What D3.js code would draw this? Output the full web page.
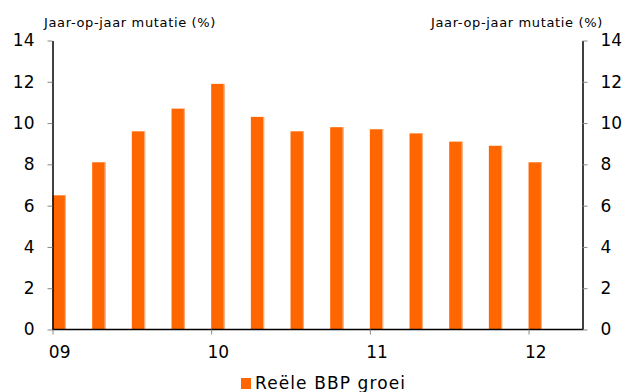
<!DOCTYPE html>
<html>
<head>
<meta charset="utf-8">
<script src="https://cdn.jsdelivr.net/npm/d3@7"></script>
<style>
  html, body { margin: 0; padding: 0; background: #fff; }
  svg { display: block; font-family: "DejaVu Sans", Verdana, sans-serif; }
</style>
</head>
<body>
<svg id="chart" width="625" height="392"></svg>
<script>
// Quarterly real GDP growth, year-on-year (%)
const quarters = ["2009 K1","2009 K2","2009 K3","2009 K4","2010 K1","2010 K2","2010 K3","2010 K4",
                  "2011 K1","2011 K2","2011 K3","2011 K4","2012 K1"];
const growth = [6.5, 8.1, 9.6, 10.7, 11.9, 10.3, 9.6, 9.8, 9.7, 9.5, 9.1, 8.9, 8.1];
const yearLabels = ["09", "10", "11", "12"];
const yTicks = [0, 2, 4, 6, 8, 10, 12, 14];
const axisTitle = "Jaar-op-jaar mutatie (%)";
const seriesName = "Reële BBP groei";

const svg = d3.select("#chart");
const plot = { left: 52.5, right: 582.5, top: 40.5, bottom: 329.5 };
const barColor = "#ff6600";

// x in quarters since 2009 K1; the axis runs a little past 2012 K1
const x = d3.scaleLinear().domain([0, 13.36]).range([plot.left, plot.right]);
const y = d3.scaleLinear().domain([0, 14]).range([plot.bottom, plot.top]);
const barW = x(0.335) - x(0);

// bars
svg.append("g").selectAll("rect")
  .data(growth)
  .join("rect")
  .attr("x", (d, i) => x(i))
  .attr("y", d => y(d))
  .attr("width", barW)
  .attr("height", d => y(0) - y(d))
  .attr("fill", barColor);

// thin light edge on the right side of each bar
svg.append("g").selectAll("line")
  .data(growth)
  .join("line")
  .attr("x1", (d, i) => x(i) + barW - 0.5)
  .attr("x2", (d, i) => x(i) + barW - 0.5)
  .attr("y1", d => y(d))
  .attr("y2", y(0))
  .attr("stroke", "#ffb487")
  .attr("stroke-width", 1);

function styleAxis(g) {
  g.select(".domain").attr("stroke", "#000").attr("stroke-width", 1.5);
  g.selectAll(".tick line").attr("stroke", "#888");
  g.selectAll(".tick text").attr("fill", "#000").style("font-size", "17px")
    .style("font-family", '"DejaVu Sans", Verdana, sans-serif');
}

// left axis
const yLeft = svg.append("g")
  .attr("transform", `translate(${plot.left},0)`)
  .call(d3.axisLeft(y).tickValues(yTicks).tickSize(5).tickSizeOuter(0).tickPadding(13));
styleAxis(yLeft);

// right axis
const yRight = svg.append("g")
  .attr("transform", `translate(${plot.right},0)`)
  .call(d3.axisRight(y).tickValues(yTicks).tickSize(5).tickSizeOuter(0).tickPadding(13));
styleAxis(yRight);
yRight.selectAll(".tick text").attr("text-anchor", "start");

// bottom axis: year ticks at the first quarter of each year
const yearPos = yearLabels.map((_, i) => i * 4);
const xAxis = svg.append("g")
  .attr("transform", `translate(0,${plot.bottom})`)
  .call(d3.axisBottom(x).tickValues(yearPos).tickSize(5).tickSizeOuter(0)
        .tickFormat((d, i) => yearLabels[i]).tickPadding(11));
styleAxis(xAxis);
xAxis.select(".domain").attr("d", `M${plot.left},0H${plot.right}`);
xAxis.selectAll(".tick text").attr("dx", barW / 2);

// axis titles
svg.append("text")
  .attr("x", 44).attr("y", 27)
  .style("font-size", "13px").style("letter-spacing", "0.65px").attr("fill", "#000")
  .text(axisTitle);
svg.append("text")
  .attr("x", 603).attr("y", 27)
  .attr("text-anchor", "end")
  .style("font-size", "13px").style("letter-spacing", "0.65px").attr("fill", "#000")
  .text(axisTitle);

// legend
const legend = svg.append("g").attr("transform", "translate(241,378)");
legend.append("rect").attr("width", 10).attr("height", 11).attr("fill", barColor);
legend.append("text")
  .attr("x", 14).attr("y", 11)
  .style("font-size", "17px").style("letter-spacing", "1.1px").attr("fill", "#000")
  .text(seriesName);
</script>
</body>
</html>
